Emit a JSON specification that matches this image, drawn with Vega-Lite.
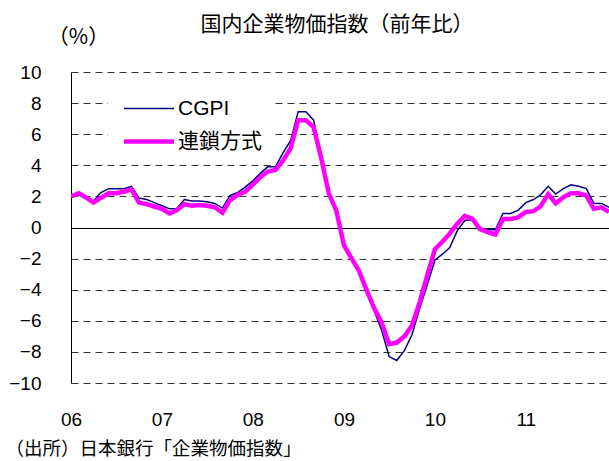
{
  "$schema": "https://vega.github.io/schema/vega-lite/v6.json",
  "width": 538,
  "height": 311,
  "autosize": {"type": "none"},
  "padding": {"left": 71, "top": 72, "right": 0, "bottom": 78},
  "background": "white",
  "config": {"view": {"stroke": null}, "font": "Liberation Sans, Noto Sans CJK JP"},
  "title": {
    "text": "国内企業物価指数（前年比）",
    "anchor": "middle",
    "frame": "group",
    "font": "Noto Sans CJK JP",
    "fontSize": 21,
    "fontWeight": "normal",
    "color": "black",
    "offset": -9,
    "dx": -3
  },
  "data": {
    "values": [
      {"date": "2006/01/01", "series": "CGPI", "value": 2.0},
      {"date": "2006/02/01", "series": "CGPI", "value": 2.2},
      {"date": "2006/03/01", "series": "CGPI", "value": 2.0},
      {"date": "2006/04/01", "series": "CGPI", "value": 1.7},
      {"date": "2006/05/01", "series": "CGPI", "value": 2.25},
      {"date": "2006/06/01", "series": "CGPI", "value": 2.5},
      {"date": "2006/07/01", "series": "CGPI", "value": 2.5},
      {"date": "2006/08/01", "series": "CGPI", "value": 2.5},
      {"date": "2006/09/01", "series": "CGPI", "value": 2.65},
      {"date": "2006/10/01", "series": "CGPI", "value": 1.9},
      {"date": "2006/11/01", "series": "CGPI", "value": 1.8},
      {"date": "2006/12/01", "series": "CGPI", "value": 1.6},
      {"date": "2007/01/01", "series": "CGPI", "value": 1.4},
      {"date": "2007/02/01", "series": "CGPI", "value": 1.2},
      {"date": "2007/03/01", "series": "CGPI", "value": 1.2},
      {"date": "2007/04/01", "series": "CGPI", "value": 1.8},
      {"date": "2007/05/01", "series": "CGPI", "value": 1.7},
      {"date": "2007/06/01", "series": "CGPI", "value": 1.7},
      {"date": "2007/07/01", "series": "CGPI", "value": 1.65},
      {"date": "2007/08/01", "series": "CGPI", "value": 1.55},
      {"date": "2007/09/01", "series": "CGPI", "value": 1.25},
      {"date": "2007/10/01", "series": "CGPI", "value": 2.05},
      {"date": "2007/11/01", "series": "CGPI", "value": 2.25},
      {"date": "2007/12/01", "series": "CGPI", "value": 2.6},
      {"date": "2008/01/01", "series": "CGPI", "value": 3.0},
      {"date": "2008/02/01", "series": "CGPI", "value": 3.5},
      {"date": "2008/03/01", "series": "CGPI", "value": 3.9},
      {"date": "2008/04/01", "series": "CGPI", "value": 3.9},
      {"date": "2008/05/01", "series": "CGPI", "value": 4.8},
      {"date": "2008/06/01", "series": "CGPI", "value": 5.6},
      {"date": "2008/07/01", "series": "CGPI", "value": 7.45},
      {"date": "2008/08/01", "series": "CGPI", "value": 7.45},
      {"date": "2008/09/01", "series": "CGPI", "value": 6.9},
      {"date": "2008/10/01", "series": "CGPI", "value": 4.6},
      {"date": "2008/11/01", "series": "CGPI", "value": 2.3},
      {"date": "2008/12/01", "series": "CGPI", "value": 1.1},
      {"date": "2009/01/01", "series": "CGPI", "value": -1.15},
      {"date": "2009/02/01", "series": "CGPI", "value": -2.0},
      {"date": "2009/03/01", "series": "CGPI", "value": -2.8},
      {"date": "2009/04/01", "series": "CGPI", "value": -4.0},
      {"date": "2009/05/01", "series": "CGPI", "value": -5.3},
      {"date": "2009/06/01", "series": "CGPI", "value": -6.6},
      {"date": "2009/07/01", "series": "CGPI", "value": -8.3},
      {"date": "2009/08/01", "series": "CGPI", "value": -8.55},
      {"date": "2009/09/01", "series": "CGPI", "value": -7.9},
      {"date": "2009/10/01", "series": "CGPI", "value": -6.9},
      {"date": "2009/11/01", "series": "CGPI", "value": -5.2},
      {"date": "2009/12/01", "series": "CGPI", "value": -3.7},
      {"date": "2010/01/01", "series": "CGPI", "value": -2.1},
      {"date": "2010/02/01", "series": "CGPI", "value": -1.7},
      {"date": "2010/03/01", "series": "CGPI", "value": -1.3},
      {"date": "2010/04/01", "series": "CGPI", "value": -0.2},
      {"date": "2010/05/01", "series": "CGPI", "value": 0.45},
      {"date": "2010/06/01", "series": "CGPI", "value": 0.5},
      {"date": "2010/07/01", "series": "CGPI", "value": -0.1},
      {"date": "2010/08/01", "series": "CGPI", "value": -0.15},
      {"date": "2010/09/01", "series": "CGPI", "value": -0.15},
      {"date": "2010/10/01", "series": "CGPI", "value": 0.9},
      {"date": "2010/11/01", "series": "CGPI", "value": 0.9},
      {"date": "2010/12/01", "series": "CGPI", "value": 1.1},
      {"date": "2011/01/01", "series": "CGPI", "value": 1.6},
      {"date": "2011/02/01", "series": "CGPI", "value": 1.8},
      {"date": "2011/03/01", "series": "CGPI", "value": 2.1},
      {"date": "2011/04/01", "series": "CGPI", "value": 2.65},
      {"date": "2011/05/01", "series": "CGPI", "value": 2.15},
      {"date": "2011/06/01", "series": "CGPI", "value": 2.5},
      {"date": "2011/07/01", "series": "CGPI", "value": 2.75},
      {"date": "2011/08/01", "series": "CGPI", "value": 2.65},
      {"date": "2011/09/01", "series": "CGPI", "value": 2.5},
      {"date": "2011/10/01", "series": "CGPI", "value": 1.55},
      {"date": "2011/11/01", "series": "CGPI", "value": 1.55},
      {"date": "2011/12/01", "series": "CGPI", "value": 1.3},
      {"date": "2006/01/01", "series": "連鎖方式", "value": 2.0},
      {"date": "2006/02/01", "series": "連鎖方式", "value": 2.2},
      {"date": "2006/03/01", "series": "連鎖方式", "value": 1.95},
      {"date": "2006/04/01", "series": "連鎖方式", "value": 1.6},
      {"date": "2006/05/01", "series": "連鎖方式", "value": 1.9},
      {"date": "2006/06/01", "series": "連鎖方式", "value": 2.2},
      {"date": "2006/07/01", "series": "連鎖方式", "value": 2.2},
      {"date": "2006/08/01", "series": "連鎖方式", "value": 2.3},
      {"date": "2006/09/01", "series": "連鎖方式", "value": 2.45},
      {"date": "2006/10/01", "series": "連鎖方式", "value": 1.6},
      {"date": "2006/11/01", "series": "連鎖方式", "value": 1.5},
      {"date": "2006/12/01", "series": "連鎖方式", "value": 1.35},
      {"date": "2007/01/01", "series": "連鎖方式", "value": 1.2},
      {"date": "2007/02/01", "series": "連鎖方式", "value": 0.9},
      {"date": "2007/03/01", "series": "連鎖方式", "value": 1.1},
      {"date": "2007/04/01", "series": "連鎖方式", "value": 1.5},
      {"date": "2007/05/01", "series": "連鎖方式", "value": 1.4},
      {"date": "2007/06/01", "series": "連鎖方式", "value": 1.45},
      {"date": "2007/07/01", "series": "連鎖方式", "value": 1.4},
      {"date": "2007/08/01", "series": "連鎖方式", "value": 1.3},
      {"date": "2007/09/01", "series": "連鎖方式", "value": 0.95},
      {"date": "2007/10/01", "series": "連鎖方式", "value": 1.75},
      {"date": "2007/11/01", "series": "連鎖方式", "value": 2.1},
      {"date": "2007/12/01", "series": "連鎖方式", "value": 2.3},
      {"date": "2008/01/01", "series": "連鎖方式", "value": 2.75},
      {"date": "2008/02/01", "series": "連鎖方式", "value": 3.25},
      {"date": "2008/03/01", "series": "連鎖方式", "value": 3.6},
      {"date": "2008/04/01", "series": "連鎖方式", "value": 3.7},
      {"date": "2008/05/01", "series": "連鎖方式", "value": 4.3},
      {"date": "2008/06/01", "series": "連鎖方式", "value": 5.1},
      {"date": "2008/07/01", "series": "連鎖方式", "value": 6.9},
      {"date": "2008/08/01", "series": "連鎖方式", "value": 6.9},
      {"date": "2008/09/01", "series": "連鎖方式", "value": 6.45},
      {"date": "2008/10/01", "series": "連鎖方式", "value": 4.5},
      {"date": "2008/11/01", "series": "連鎖方式", "value": 2.2},
      {"date": "2008/12/01", "series": "連鎖方式", "value": 1.1},
      {"date": "2009/01/01", "series": "連鎖方式", "value": -1.15},
      {"date": "2009/02/01", "series": "連鎖方式", "value": -2.0},
      {"date": "2009/03/01", "series": "連鎖方式", "value": -2.75},
      {"date": "2009/04/01", "series": "連鎖方式", "value": -4.0},
      {"date": "2009/05/01", "series": "連鎖方式", "value": -5.15},
      {"date": "2009/06/01", "series": "連鎖方式", "value": -6.1},
      {"date": "2009/07/01", "series": "連鎖方式", "value": -7.5},
      {"date": "2009/08/01", "series": "連鎖方式", "value": -7.4},
      {"date": "2009/09/01", "series": "連鎖方式", "value": -7.0},
      {"date": "2009/10/01", "series": "連鎖方式", "value": -6.3},
      {"date": "2009/11/01", "series": "連鎖方式", "value": -4.8},
      {"date": "2009/12/01", "series": "連鎖方式", "value": -3.1},
      {"date": "2010/01/01", "series": "連鎖方式", "value": -1.4},
      {"date": "2010/02/01", "series": "連鎖方式", "value": -0.9},
      {"date": "2010/03/01", "series": "連鎖方式", "value": -0.4},
      {"date": "2010/04/01", "series": "連鎖方式", "value": 0.25},
      {"date": "2010/05/01", "series": "連鎖方式", "value": 0.75},
      {"date": "2010/06/01", "series": "連鎖方式", "value": 0.55},
      {"date": "2010/07/01", "series": "連鎖方式", "value": -0.1},
      {"date": "2010/08/01", "series": "連鎖方式", "value": -0.3},
      {"date": "2010/09/01", "series": "連鎖方式", "value": -0.45},
      {"date": "2010/10/01", "series": "連鎖方式", "value": 0.55},
      {"date": "2010/11/01", "series": "連鎖方式", "value": 0.55},
      {"date": "2010/12/01", "series": "連鎖方式", "value": 0.65},
      {"date": "2011/01/01", "series": "連鎖方式", "value": 1.0},
      {"date": "2011/02/01", "series": "連鎖方式", "value": 1.05},
      {"date": "2011/03/01", "series": "連鎖方式", "value": 1.35},
      {"date": "2011/04/01", "series": "連鎖方式", "value": 2.15},
      {"date": "2011/05/01", "series": "連鎖方式", "value": 1.55},
      {"date": "2011/06/01", "series": "連鎖方式", "value": 1.95},
      {"date": "2011/07/01", "series": "連鎖方式", "value": 2.2},
      {"date": "2011/08/01", "series": "連鎖方式", "value": 2.2},
      {"date": "2011/09/01", "series": "連鎖方式", "value": 2.05},
      {"date": "2011/10/01", "series": "連鎖方式", "value": 1.2},
      {"date": "2011/11/01", "series": "連鎖方式", "value": 1.3},
      {"date": "2011/12/01", "series": "連鎖方式", "value": 1.0}
    ]
  },
  "encoding": {
    "y": {
      "field": "value",
      "type": "quantitative",
      "scale": {"domain": [-10, 10], "nice": false, "zero": false},
      "axis": {
        "values": [-10, -8, -6, -4, -2, 0, 2, 4, 6, 8, 10],
        "labelFont": "Liberation Sans",
        "labelFontSize": 19,
        "labelColor": "black",
        "labelPadding": 30,
        "labelOverlap": false,
        "labelBound": false,
        "ticks": false,
        "tickSize": 0,
        "domainColor": "black",
        "domainWidth": 1,
        "grid": true,
        "gridDash": [7, 5],
        "gridColor": "#333333",
        "gridWidth": 1,
        "title": "（%）",
        "titleFont": "Noto Sans CJK JP",
        "titleFontSize": 21,
        "titleFontWeight": "normal",
        "titleColor": "black",
        "titleAngle": 0,
        "titleX": 7,
        "titleY": -35,
        "titleAlign": "center",
        "titleBaseline": "middle"
      }
    }
  },
  "layer": [
    {
      "mark": {"type": "rule", "color": "black", "strokeWidth": 1, "yOffset": 1},
      "encoding": {"y": {"datum": 0, "type": "quantitative"}}
    },
    {
      "mark": {"type": "line", "clip": true},
      "encoding": {
        "x": {
          "field": "date",
          "type": "temporal",
          "scale": {"domain": [{"year": 2006, "month": 1, "date": 1}, {"year": 2011, "month": 12, "date": 1}]},
          "axis": {
            "format": "%y",
            "values": [
              {"year": 2006, "month": 1, "date": 1},
              {"year": 2007, "month": 1, "date": 1},
              {"year": 2008, "month": 1, "date": 1},
              {"year": 2009, "month": 1, "date": 1},
              {"year": 2010, "month": 1, "date": 1},
              {"year": 2011, "month": 1, "date": 1}
            ],
            "labelFont": "Liberation Sans",
            "labelFontSize": 19,
            "labelColor": "black",
            "labelPadding": 27,
            "labelFlush": false,
            "labelOverlap": false,
            "ticks": false,
            "tickSize": 0,
            "domain": false,
            "grid": false,
            "title": "（出所）日本銀行「企業物価指数」",
            "titleFont": "Noto Sans CJK JP",
            "titleFontSize": 18.5,
            "titleFontWeight": "normal",
            "titleColor": "black",
            "titleX": -66,
            "titleY": 65,
            "titleAlign": "left",
            "titleBaseline": "middle"
          }
        },
        "color": {
          "field": "series",
          "type": "nominal",
          "scale": {"domain": ["CGPI", "連鎖方式"], "range": ["#000080", "#FF00FF"]},
          "legend": {
            "title": null,
            "orient": "none",
            "legendX": 37,
            "legendY": 14,
            "padding": 12,
            "fillColor": "white",
            "strokeColor": null,
            "symbolType": "M-1,0H6.7",
            "symbolSize": 169,
            "labelFontSize": 21,
            "labelOffset": 37,
            "rowPadding": 11,
            "labelColor": "black",
            "labelFont": "Liberation Sans, Noto Sans CJK JP"
          }
        },
        "strokeWidth": {
          "field": "series",
          "type": "nominal",
          "scale": {"domain": ["CGPI", "連鎖方式"], "range": [1.5, 4.5]},
          "legend": {
            "title": null,
            "orient": "none",
            "legendX": 37,
            "legendY": 14,
            "padding": 12,
            "fillColor": "white",
            "strokeColor": null,
            "symbolType": "M-1,0H6.7",
            "symbolSize": 169,
            "labelFontSize": 21,
            "labelOffset": 37,
            "rowPadding": 11,
            "labelColor": "black",
            "labelFont": "Liberation Sans, Noto Sans CJK JP"
          }
        }
      }
    }
  ]
}
